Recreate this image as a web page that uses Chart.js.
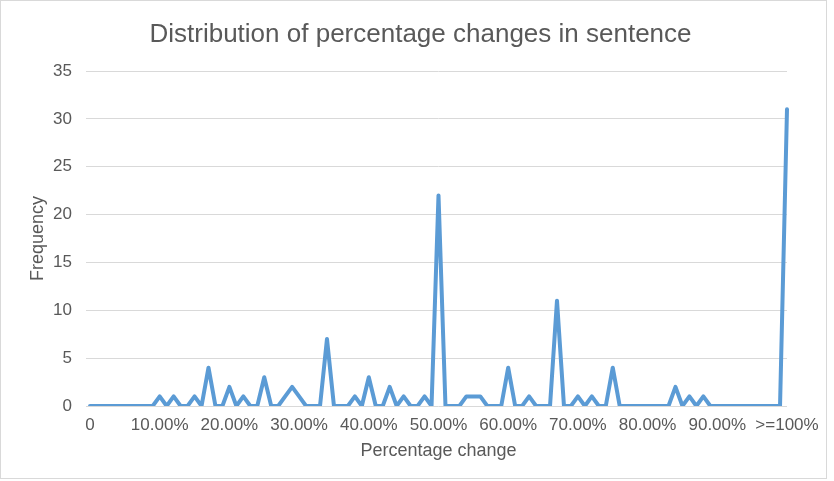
<!DOCTYPE html>
<html>
<head>
<meta charset="utf-8">
<script src="https://cdn.jsdelivr.net/npm/chart.js@4/dist/chart.umd.min.js"></script>
<style>
  html, body { margin: 0; padding: 0; background: #ffffff; }
  #frame { position: absolute; left: 0; top: 0; width: 827px; height: 479px; box-sizing: border-box; border: 1px solid #d9d9d9; }
  #wrap { position: absolute; left: 0; top: 0; width: 834px; height: 481px; }
</style>
</head>
<body>
<div id="frame"></div>
<div id="wrap"><canvas id="chart" width="834" height="481"></canvas></div>
<script>
// Percentage-change bins (1% wide), last bin collects everything at or above 100%
const categories = [
  "0", "1.00%", "2.00%", "3.00%", "4.00%", "5.00%", "6.00%", "7.00%", "8.00%", "9.00%",
  "10.00%", "11.00%", "12.00%", "13.00%", "14.00%", "15.00%", "16.00%", "17.00%", "18.00%", "19.00%",
  "20.00%", "21.00%", "22.00%", "23.00%", "24.00%", "25.00%", "26.00%", "27.00%", "28.00%", "29.00%",
  "30.00%", "31.00%", "32.00%", "33.00%", "34.00%", "35.00%", "36.00%", "37.00%", "38.00%", "39.00%",
  "40.00%", "41.00%", "42.00%", "43.00%", "44.00%", "45.00%", "46.00%", "47.00%", "48.00%", "49.00%",
  "50.00%", "51.00%", "52.00%", "53.00%", "54.00%", "55.00%", "56.00%", "57.00%", "58.00%", "59.00%",
  "60.00%", "61.00%", "62.00%", "63.00%", "64.00%", "65.00%", "66.00%", "67.00%", "68.00%", "69.00%",
  "70.00%", "71.00%", "72.00%", "73.00%", "74.00%", "75.00%", "76.00%", "77.00%", "78.00%", "79.00%",
  "80.00%", "81.00%", "82.00%", "83.00%", "84.00%", "85.00%", "86.00%", "87.00%", "88.00%", "89.00%",
  "90.00%", "91.00%", "92.00%", "93.00%", "94.00%", "95.00%", "96.00%", "97.00%", "98.00%", "99.00%",
  ">=100%"
];

// Number of sentences falling in each bin
const frequency = [
  0, 0, 0, 0, 0, 0, 0, 0, 0, 0,
  1, 0, 1, 0, 0, 1, 0, 4, 0, 0,
  2, 0, 1, 0, 0, 3, 0, 0, 1, 2,
  1, 0, 0, 0, 7, 0, 0, 0, 1, 0,
  3, 0, 0, 2, 0, 1, 0, 0, 1, 0,
  22, 0, 0, 0, 1, 1, 1, 0, 0, 0,
  4, 0, 0, 1, 0, 0, 0, 11, 0, 0,
  1, 0, 1, 0, 0, 4, 0, 0, 0, 0,
  0, 0, 0, 0, 2, 0, 1, 0, 1, 0,
  0, 0, 0, 0, 0, 0, 0, 0, 0, 0,
  31
];

// Only every tenth bin carries a visible label
const labelEvery = 10;

const textColor = "#595959";
const gridColor = "#d9d9d9";
const fontFamily = "'Liberation Sans', Arial, sans-serif";

// Centre the title over the whole chart frame rather than the padded box
const titleShift = {
  id: "titleShift",
  afterLayout(chart) {
    const block = chart.titleBlock;
    if (block) {
      block.left += 22;
      block.right += 22;
    }
  }
};

new Chart(document.getElementById("chart"), {
  type: "line",
  data: {
    labels: categories,
    datasets: [{
      label: "Frequency",
      data: frequency,
      borderColor: "#5b9bd5",
      backgroundColor: "#5b9bd5",
      borderWidth: 4,
      borderJoinStyle: "round",
      borderCapStyle: "round",
      pointRadius: 0,
      pointHoverRadius: 0,
      tension: 0,
      fill: false
    }]
  },
  plugins: [titleShift],
  options: {
    responsive: false,
    animation: false,
    layout: { padding: { left: 10, right: 47, top: 7, bottom: 19 } },
    plugins: {
      legend: { display: false },
      tooltip: { enabled: false },
      title: {
        display: true,
        text: "Distribution of percentage changes in sentence",
        color: textColor,
        font: { family: fontFamily, size: 26, weight: "normal" },
        padding: { top: 12, bottom: 20.8 }
      }
    },
    scales: {
      x: {
        type: "category",
        offset: false,
        grid: { display: false, drawTicks: false },
        border: { display: false },
        afterFit(scale) { scale.height = 56; },
        ticks: {
          autoSkip: false,
          maxRotation: 0,
          minRotation: 0,
          padding: 9,
          color: textColor,
          font: { family: fontFamily, size: 17 },
          callback: function (value, index) {
            return index % labelEvery === 0 ? categories[index] : "";
          }
        },
        title: {
          display: true,
          text: "Percentage change",
          color: textColor,
          font: { family: fontFamily, size: 18 },
          padding: { top: 0, bottom: 0 }
        }
      },
      y: {
        min: 0,
        max: 35,
        grid: { color: gridColor, lineWidth: 1, drawTicks: true, tickLength: 4, tickColor: gridColor },
        border: { display: false },
        afterFit(scale) { scale.width = 80; },
        ticks: {
          stepSize: 5,
          padding: 14,
          color: textColor,
          font: { family: fontFamily, size: 17 }
        },
        title: {
          display: true,
          text: "Frequency",
          color: textColor,
          font: { family: fontFamily, size: 18 },
          padding: { top: 17, bottom: 0 }
        }
      }
    }
  }
});
</script>
</body>
</html>
